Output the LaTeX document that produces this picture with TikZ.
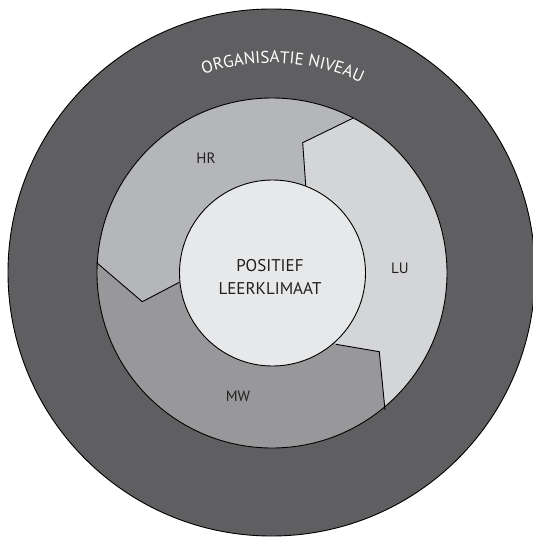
\documentclass[tikz,border=0pt]{standalone}
\usepackage{fontspec}
\setmainfont{PT Sans}
\usetikzlibrary{decorations.text}
\definecolor{outerc}{HTML}{5F5F61}
\definecolor{hrc}{HTML}{B5B6B9}
\definecolor{mwc}{HTML}{98989B}
\definecolor{luc}{HTML}{D4D5D7}
\definecolor{innerc}{HTML}{E7E8E9}
\definecolor{txtc}{HTML}{231F20}
\tikzset{
  ringline/.style={draw=black, line width=0.9pt},
  seglabel/.style={text=txtc, font=\fontsize{15}{18}\selectfont, inner sep=0pt},
}
\begin{document}
\begin{tikzpicture}[x=1pt,y=-1pt]
\useasboundingbox (0,0) rectangle (533,539);
\begin{scope}
\clip (0,0) rectangle (533,539);
\fill[outerc] (271.5,272.5) circle[radius=263.5];
\draw[ringline] (271.5,272.5) circle[radius=263.5];
\end{scope}
% middle ring
\coordinate (c) at (272,273);
\fill[hrc] (c) circle[radius=175];
\begin{scope}
\clip (c) circle[radius=175];
\fill[luc] (402,94) -- (352.7,118.3) -- (302.7,142.7) -- (306,189.3) -- (c)
  -- (336,344.3) -- (379.3,351.7) -- (385,410) -- (390,500) -- (560,500) -- (560,94) -- cycle;
\fill[mwc] (50,223) -- (96.7,262.7) -- (142.3,301.7) -- (179.3,282.3) -- (c)
  -- (336,344.3) -- (379.3,351.7) -- (385,410) -- (390,500) -- (0,500) -- (0,223) -- cycle;
\end{scope}
\coordinate (a1) at (352.7,118.3);
\coordinate (a2) at (302.7,142.7);
\coordinate (a3) at (306,189.3);
\coordinate (b1) at (96.7,262.7);
\coordinate (b2) at (142.3,301.7);
\coordinate (b3) at (179.3,282.3);
\coordinate (d1) at (336,344.3);
\coordinate (d2) at (379.3,351.7);
\coordinate (d3) at (385,410);
\draw[ringline, line join=miter] (a1) -- (a2) -- (a3);
\draw[ringline, line join=miter] (b1) -- (b2) -- (b3);
\draw[ringline, line join=miter] (d1) -- (d2) -- (d3);
\draw[ringline] (c) circle[radius=175];
% inner circle
\node[circle, minimum size=186pt, fill=innerc, draw=black, line width=0.9pt, inner sep=0pt] (core) at (272.5,273) {};
\node[seglabel, align=center, font=\fontsize{17}{22.5}\selectfont] (pl) at (270,277) {POSITIEF\\LEERKLIMAAT};
\node[seglabel] (hr) at (206,158) {HR};
\node[seglabel] (lu) at (400,268) {LU};
\node[seglabel] (mw) at (238,396) {MW};
% curved title
\path[decorate, decoration={text along path, text align=center,
  text={|\fontsize{17}{20}\selectfont\color{white}|ORGANISATIE NIVEAU}}]
  (272,273) ++(-126:210) arc[start angle=-126, end angle=-48, radius=210];
\end{tikzpicture}
\end{document}
